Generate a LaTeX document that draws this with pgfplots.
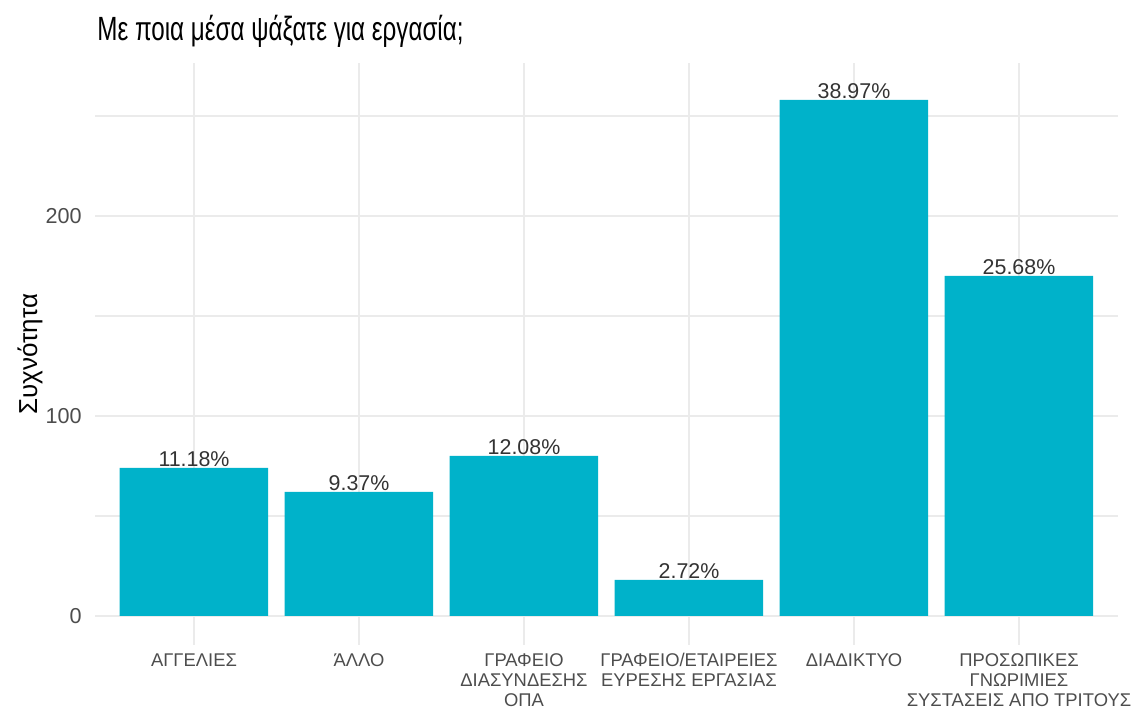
\documentclass[border=0pt]{standalone}
\usepackage{fontspec}
\setmainfont{Liberation Sans}
\newfontfamily\titlefont[FakeStretch=0.72]{Liberation Sans}
\usepackage{pgfplots}
\pgfplotsset{compat=1.18}
\definecolor{barcol}{HTML}{00B2CA}
\definecolor{gridcol}{HTML}{EBEBEB}
\definecolor{ticktxt}{HTML}{4D4D4D}
\definecolor{lbltxt}{HTML}{333333}
\begin{document}
\begin{tikzpicture}
  \useasboundingbox (-47.5pt,-33pt) rectangle (518.5pt,322.5pt);
  \begin{axis}[
    scale only axis,
    width=511.5pt, height=291pt,
    xmin=0.4, xmax=6.6,
    ymin=-14.5, ymax=276.5,
    enlargelimits=false,
    xtick={1,2,3,4,5,6},
    xticklabels={
      ΑΓΓΕΛΙΕΣ,
      ΆΛΛΟ,
      {ΓΡΑΦΕΙΟ\\ΔΙΑΣΥΝΔΕΣΗΣ\\ΟΠΑ},
      {ΓΡΑΦΕΙΟ/ΕΤΑΙΡΕΙΕΣ\\ΕΥΡΕΣΗΣ ΕΡΓΑΣΙΑΣ},
      ΔΙΑΔΙΚΤΥΟ,
      {ΠΡΟΣΩΠΙΚΕΣ\\ΓΝΩΡΙΜΙΕΣ\\ΣΥΣΤΑΣΕΙΣ ΑΠΟ ΤΡΙΤΟΥΣ}},
    ytick={0,100,200},
    minor ytick={50,150,250},
    xmajorgrids, ymajorgrids, yminorgrids,
    major grid style={draw=gridcol, line width=1pt},
    minor grid style={draw=gridcol, line width=0.55pt},
    axis line style={draw=none},
    major tick length=0pt, minor tick length=0pt,
    tick style={draw=none},
    /pgf/number format/assume math mode=true,
    xticklabel style={font=\fontsize{9.2}{10}\selectfont, text=ticktxt,
      align=center, anchor=north, inner sep=0pt, yshift=-4pt},
    yticklabel style={font=\fontsize{10.8}{12}\selectfont, text=ticktxt,
      anchor=east, inner sep=0pt, xshift=-6.5pt},
    ylabel={Συχνότητα},
    ylabel style={font=\fontsize{13}{15}\selectfont, text=black,
      at={(axis description cs:0,0.5)}, anchor=center, yshift=32.5pt},
    title={Με ποια μέσα ψάξατε για εργασία;},
    title style={font=\titlefont\fontsize{16.8}{19}\selectfont, text=black,
      at={(axis description cs:0,1)}, anchor=base west, inner sep=0pt,
      xshift=1pt, yshift=5pt},
    point meta=explicit symbolic,
    nodes near coords,
    nodes near coords style={font=\fontsize{10.7}{12}\selectfont, text=lbltxt,
      anchor=base, inner sep=0pt, yshift=0.5pt},
  ]
    \addplot[ybar, bar width=0.9, fill=barcol, draw=none] coordinates {
      (1,74)  [11.18\%]
      (2,62)  [9.37\%]
      (3,80)  [12.08\%]
      (4,18)  [2.72\%]
      (5,258) [38.97\%]
      (6,170) [25.68\%]
    };
  \end{axis}
\end{tikzpicture}
\end{document}
